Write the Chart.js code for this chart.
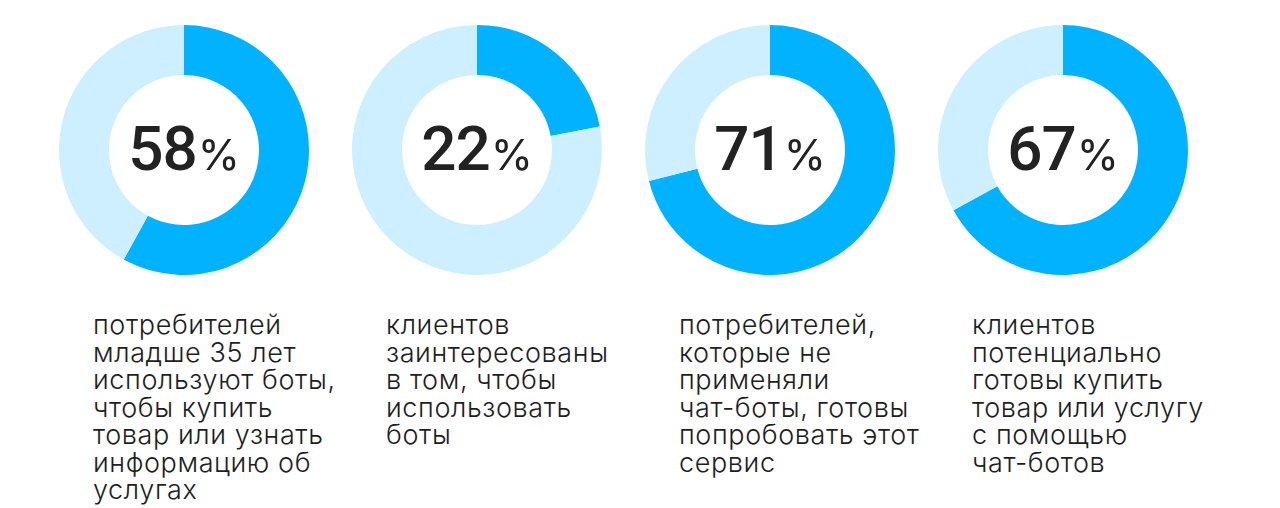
<!DOCTYPE html>
<html>
<head>
<meta charset="utf-8">
<script src="https://cdn.jsdelivr.net/npm/chart.js@4"></script>
<style>
  html, body { margin: 0; padding: 0; background: #fff; }
  body { width: 1280px; height: 508px; position: relative; overflow: hidden; }
  .ring { position: absolute; top: 25px; width: 250px; height: 250px; }
  .caption {
    position: absolute; top: 311px; width: 290px;
    font-family: Inter, "Noto Sans", sans-serif; font-weight: 300;
    font-size: 27px; line-height: 27.5px; letter-spacing: 0.6px;
    color: #1e1e1e; white-space: pre;
  }
</style>
</head>
<body>
<script>
// values
const shares = [58, 22, 71, 67];
const segments = ['share', 'rest'];
const captions = [
  ['потребителей', 'младше 35 лет', 'используют боты,', 'чтобы купить', 'товар или узнать', 'информацию об', 'услугах'],
  ['клиентов', 'заинтересованы', 'в том, чтобы', 'использовать', 'боты'],
  ['потребителей,', 'которые не', 'применяли', 'чат-боты, готовы', 'попробовать этот', 'сервис'],
  ['клиентов', 'потенциально', 'готовы купить', 'товар или услугу', 'с помощью', 'чат-ботов']
];

const centers = [184, 477, 770, 1063];

// draws "58%" in the hole
const centerText = {
  id: 'centerText',
  afterDraw(chart) {
    const { ctx } = chart;
    const arc = chart.getDatasetMeta(0).data[0];
    const x = arc.x, y = arc.y;
    const num = String(chart.data.datasets[0].data[0]);
    const numFont = '500 62px Roboto, Inter, sans-serif';
    const pctFont = '400 43px Inter, Roboto, sans-serif';
    ctx.save();
    ctx.fillStyle = '#222';
    ctx.textBaseline = 'alphabetic';
    ctx.letterSpacing = '-1px';
    ctx.font = numFont;
    const w1 = ctx.measureText(num).width;
    ctx.letterSpacing = '0px';
    ctx.font = pctFont;
    const w2 = ctx.measureText('%').width;
    const gap = 1;
    const left = x - (w1 + gap + w2) / 2;
    ctx.letterSpacing = '-1px';
    ctx.font = numFont;
    ctx.fillText(num, left, y + 20);
    ctx.letterSpacing = '0px';
    ctx.font = pctFont;
    ctx.fillText('%', left + w1 + gap, y + 20);
    ctx.restore();
  }
};

shares.forEach((v, i) => {
  const box = document.createElement('div');
  box.className = 'ring';
  box.style.left = (centers[i] - 125) + 'px';
  const cv = document.createElement('canvas');
  box.appendChild(cv);
  document.body.appendChild(box);

  new Chart(cv, {
    type: 'doughnut',
    data: {
      labels: segments,
      datasets: [{
        data: [v, 100 - v],
        backgroundColor: ['#00b2ff', '#cdefff'],
        borderWidth: 0,
        hoverOffset: 0
      }]
    },
    options: {
      responsive: true,
      maintainAspectRatio: false,
      animation: false,
      cutout: '60%',
      plugins: { legend: { display: false }, tooltip: { enabled: false } }
    },
    plugins: [centerText]
  });

  const cap = document.createElement('div');
  cap.className = 'caption';
  cap.style.left = (centers[i] - 91) + 'px';
  cap.textContent = captions[i].join('\n');
  document.body.appendChild(cap);
});
</script>
</body>
</html>
